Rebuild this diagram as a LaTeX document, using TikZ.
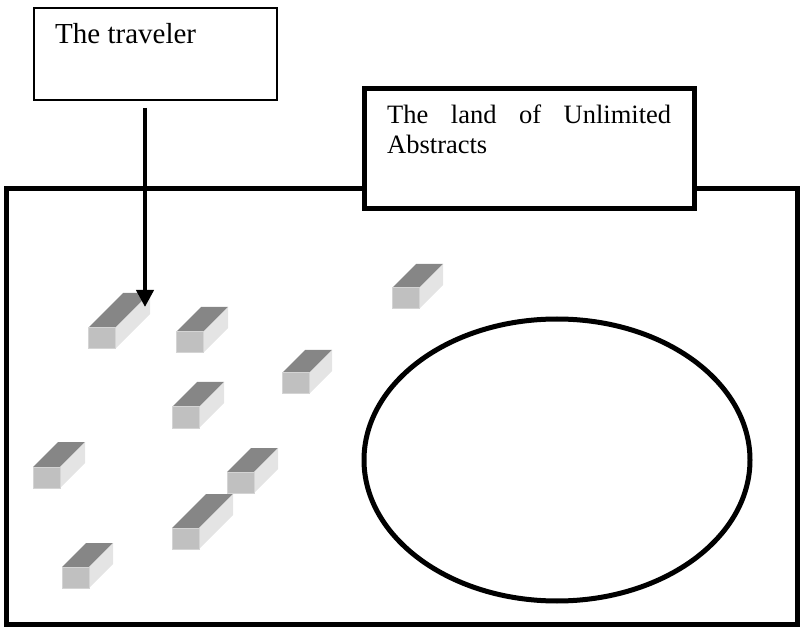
\documentclass[tikz,border=0pt]{standalone}
\usepackage{fontspec}
\setmainfont{Liberation Serif}
\usetikzlibrary{arrows.meta,shapes.geometric}

\definecolor{brickTop}{RGB}{134,134,134}
\definecolor{brickFront}{RGB}{192,192,192}
\definecolor{brickRim}{RGB}{212,212,212}
\definecolor{brickSide}{RGB}{228,228,228}

\begin{document}
\begin{tikzpicture}[
  x=1pt, y=-1pt,
  label/.style={inner sep=0pt, font=\fontsize{26.5}{30}\selectfont},
  thick frame/.style={draw, line width=5pt},
]
\useasboundingbox (0,0) rectangle (801,628);
% kraina: duza rama
\draw[thick frame] (6,188.5) rectangle (797,624);
% podrozny
\node[draw, line width=1.8pt, minimum width=243pt, minimum height=92pt,
  inner sep=0pt, anchor=north west] (traveler) at (33,7) {};
\node[label, anchor=base west, font=\fontsize{29}{32}\selectfont] (travelerText) at (55,44) {The traveler};
% tabliczka z nazwa krainy
\node[thick frame, fill=white, minimum width=330pt, minimum height=120pt,
  inner sep=0pt] (land) at (529.5,148.5) {};
\node[label, anchor=base west, text width=284pt, align=justify] (landText) at (387,124)
  {The land of Unlimited\linebreak Abstracts};
% jezioro
\node[thick frame, ellipse, inner sep=0pt, minimum width=386pt,
  minimum height=282pt] (pool) at (557,460) {};
% klocki: x/y lewego gornego rogu czola / glebokosc
\foreach \bx/\by/\bd in {88/328/35, 176/332/25, 282/373/23, 392/288/24,
    172/407/25, 33/467/25, 227/472/24, 172/528/34, 62/567/24} {
  \fill[brickTop] (\bx,\by) -- ++(27,0) -- ++(\bd,-\bd) -- ++(-27,0) -- cycle;
  \fill[brickSide] (\bx+27,\by) -- ++(\bd,-\bd) -- ++(0,21) -- ++(-\bd,\bd) -- cycle;
  \filldraw[fill=brickFront, draw=brickRim, line width=1pt] (\bx,\by) rectangle ++(27,21);
}
% zejscie podroznego
\coordinate (drop) at (145,108);
\coordinate (landing) at (145,307);
\draw[line width=4pt, -{Triangle[width=17pt,length=17pt]}] (drop) -- (landing);
\end{tikzpicture}
\end{document}
